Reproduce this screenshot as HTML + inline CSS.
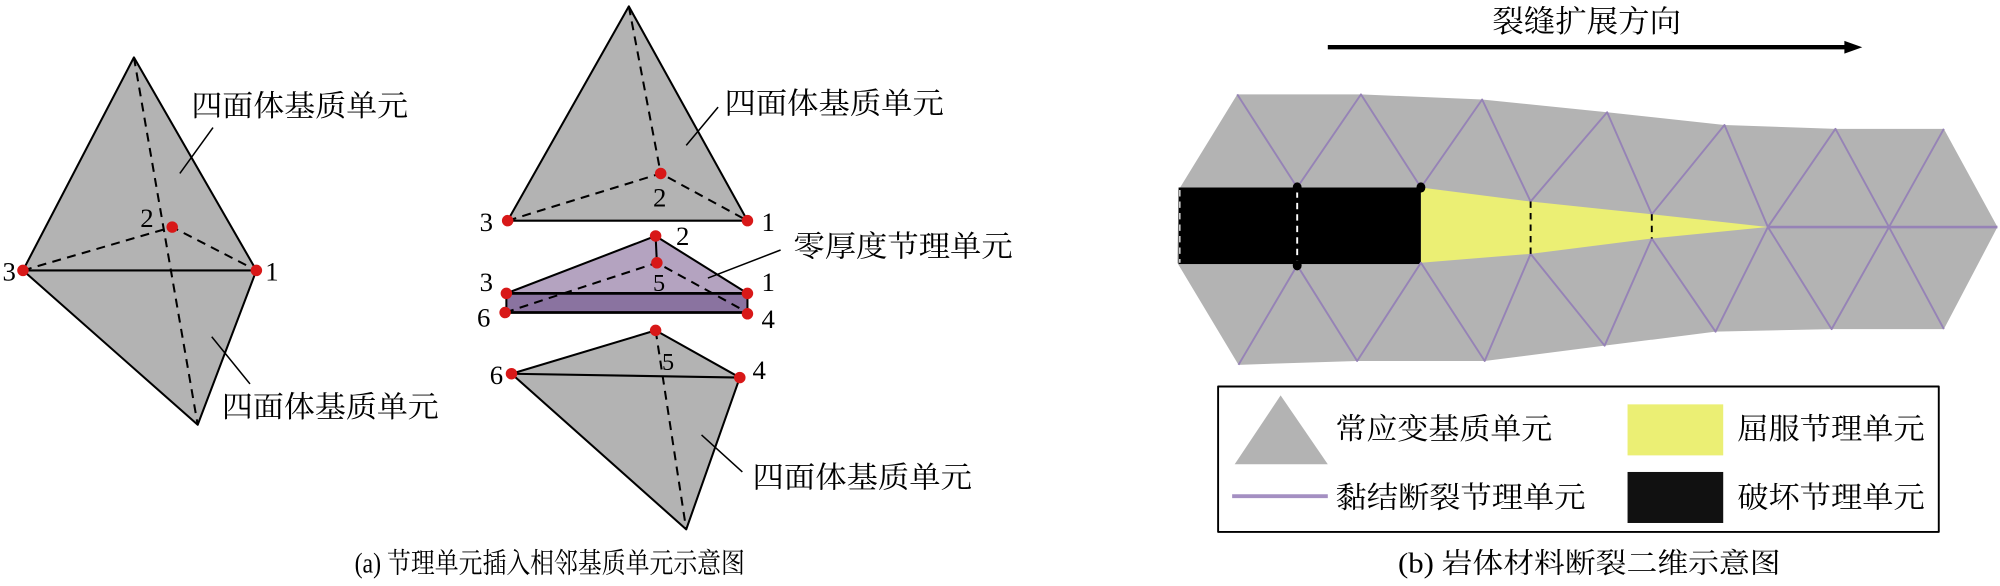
<!DOCTYPE html>
<html><head><meta charset="utf-8"><style>
html,body{margin:0;padding:0;background:#fff;}
svg{display:block;}
text{font-family:"Liberation Serif","Noto Serif CJK SC",serif;fill:#000;}
</style></head><body>
<svg width="2000" height="586" viewBox="0 0 1568 459.4" preserveAspectRatio="none" xmlns="http://www.w3.org/2000/svg">
<g stroke-linejoin="round">
<!-- left tetra -->
<polygon points="105,45 18,212 201,212" fill="#b3b3b3"/>
<polygon points="18,212 201,212 155,333" fill="#b3b3b3"/>
<g stroke="#000" stroke-width="1.6" fill="none">
<polyline points="18,212 105,45 201,212 18,212 155,333 201,212"/>
<g stroke-dasharray="7,5"><line x1="105" y1="45" x2="155" y2="333"/><polyline points="18,212 135,178 201,212"/></g>
<line x1="167" y1="100" x2="141" y2="136" stroke-width="1.2"/>
<line x1="166" y1="264" x2="196" y2="301" stroke-width="1.2"/>
</g>
<g fill="#d81818"><circle cx="18" cy="212" r="4.5"/><circle cx="201" cy="212" r="4.5"/><circle cx="135" cy="178" r="4.5"/></g>
<text x="2" y="220" font-size="21">3</text><text x="208" y="220" font-size="21">1</text><text x="110" y="178" font-size="21">2</text>
<text x="150" y="91" font-size="23" textLength="170" lengthAdjust="spacingAndGlyphs">四面体基质单元</text>
<text x="174" y="327" font-size="23" textLength="170" lengthAdjust="spacingAndGlyphs">四面体基质单元</text>

<!-- middle top -->
<polygon points="493,5 398,173 586,173" fill="#b3b3b3"/>
<g stroke="#000" stroke-width="1.6" fill="none">
<polygon points="493,5 398,173 586,173"/>
<polyline stroke-dasharray="7,5" points="493,5 518,136"/>
<polyline stroke-dasharray="7,5" points="398,173 518,136 586,173"/>
<line x1="563" y1="84" x2="538" y2="114" stroke-width="1.2"/>
</g>
<g fill="#d81818"><circle cx="398" cy="173" r="4.5"/><circle cx="586" cy="173" r="4.5"/><circle cx="518" cy="136" r="4.5"/></g>
<text x="376" y="181" font-size="21">3</text><text x="597" y="181" font-size="21">1</text><text x="512" y="162" font-size="21">2</text>
<text x="568" y="89" font-size="23" textLength="172" lengthAdjust="spacingAndGlyphs">四面体基质单元</text>

<!-- purple joint -->
<polygon points="397,245 397,230 586,230 586,245" fill="#8a73a0"/>
<polygon points="514,185 397,230 586,230" fill="#b4a3c0"/>
<g stroke="#000" stroke-width="1.6" fill="none">
<polyline points="397,230 514,185 586,230"/>
<line x1="397" y1="230" x2="586" y2="230" stroke-width="2.2"/>
<line x1="397" y1="245" x2="586" y2="245" stroke-width="2.2"/>
<line x1="397" y1="230" x2="397" y2="245"/><line x1="586" y1="230" x2="586" y2="245"/>
<line x1="514" y1="185" x2="515" y2="206"/>
<polyline stroke-dasharray="7,5" points="396,245 515,206 586,245"/>
<line x1="612" y1="196" x2="555" y2="218" stroke-width="1.2"/>
</g>
<g fill="#d81818"><circle cx="514" cy="185" r="4.5"/><circle cx="515" cy="206" r="4.5"/><circle cx="397" cy="230" r="4.5"/><circle cx="586" cy="230" r="4.5"/><circle cx="396" cy="245" r="4.5"/><circle cx="586" cy="246" r="4.5"/></g>
<text x="530" y="192" font-size="21">2</text><text x="376" y="228" font-size="21">3</text><text x="512" y="228" font-size="19">5</text>
<text x="597" y="228" font-size="21">1</text><text x="374" y="256" font-size="21">6</text><text x="597" y="257" font-size="21">4</text>
<text x="622" y="201" font-size="23" textLength="172" lengthAdjust="spacingAndGlyphs">零厚度节理单元</text>

<!-- bottom tetra -->
<polygon points="514,259 401,293 538,415 580,296" fill="#b3b3b3"/>
<g stroke="#000" stroke-width="1.6" fill="none">
<polyline points="580,296 514,259 401,293 580,296 538,415 401,293"/>
<line stroke-dasharray="7,5" x1="514" y1="259" x2="538" y2="415"/>
<line x1="550" y1="341" x2="582" y2="370" stroke-width="1.2"/>
</g>
<g fill="#d81818"><circle cx="514" cy="259" r="4.5"/><circle cx="401" cy="293" r="4.5"/><circle cx="580" cy="296" r="4.5"/></g>
<text x="519" y="290" font-size="19">5</text><text x="384" y="301" font-size="21">6</text><text x="590" y="297" font-size="21">4</text>
<text x="590" y="382" font-size="23" textLength="172" lengthAdjust="spacingAndGlyphs">四面体基质单元</text>

<text x="431" y="449" font-size="22" text-anchor="middle" textLength="306" lengthAdjust="spacingAndGlyphs">(a) 节理单元插入相邻基质单元示意图</text>

<!-- right panel -->
<text x="1244" y="25" font-size="24" text-anchor="middle" textLength="148" lengthAdjust="spacingAndGlyphs">裂缝扩展方向</text>
<line x1="1041" y1="37" x2="1448" y2="37" stroke="#000" stroke-width="3.5"/>
<polygon points="1446,32 1460,37 1446,42" fill="#000"/>

<polygon points="924,149 970,74 1067,74 1162,78 1260,88 1352,98 1439,101 1524,101 1566,178 1524,258 1436,258 1345,260 1258,271 1164,283 1064,283 971,286 923,206" fill="#b3b3b3"/>
<rect x="924" y="147" width="190" height="60" fill="#000"/>
<polygon points="1114,147 1200,158 1295,168 1386,178 1295,187 1200,199 1114,206" fill="#ebef74"/>
<g stroke="#9683b6" stroke-width="1.5" fill="none">
<polyline points="970,74 1017,147 1067,74 1114,147 1162,78 1200,158 1260,88 1295,168 1352,98 1386,178 1439,101 1481,178 1524,101"/>
<polyline points="971,286 1017,208 1064,283 1114,206 1164,283 1200,199 1258,271 1295,187 1345,260 1386,178 1436,258 1481,178 1524,258"/>
<line x1="1386" y1="178" x2="1566" y2="178" stroke-width="2"/>
</g>
<g stroke-dasharray="5,4" fill="none" stroke-width="1.5">
<line x1="1200" y1="158" x2="1200" y2="199" stroke="#000"/>
<line x1="1295" y1="168" x2="1295" y2="187" stroke="#000"/>
<line x1="1017" y1="150" x2="1017" y2="205" stroke="#fff"/>
<line x1="925" y1="149" x2="925" y2="206" stroke="#fff" stroke-width="1"/>
</g>
<g fill="#000"><ellipse cx="1017" cy="147" rx="3.5" ry="4"/><ellipse cx="1017" cy="208" rx="3.5" ry="4"/><ellipse cx="1114" cy="147" rx="3.5" ry="4"/></g>

<!-- legend -->
<rect x="955" y="303" width="565" height="114" fill="#fff" stroke="#000" stroke-width="1.5"/>
<polygon points="1004,310 968,364 1041,364" fill="#b3b3b3"/>
<text x="1047" y="344" font-size="23" textLength="170" lengthAdjust="spacingAndGlyphs">常应变基质单元</text>
<rect x="1276" y="317" width="75" height="40" fill="#ebef74"/>
<text x="1362" y="344" font-size="23" textLength="147" lengthAdjust="spacingAndGlyphs">屈服节理单元</text>
<line x1="966" y1="389" x2="1041" y2="389" stroke="#a48fc2" stroke-width="3"/>
<text x="1047" y="398" font-size="23" textLength="196" lengthAdjust="spacingAndGlyphs">黏结断裂节理单元</text>
<rect x="1276" y="370" width="75" height="40" fill="#111"/>
<text x="1362" y="398" font-size="23" textLength="147" lengthAdjust="spacingAndGlyphs">破坏节理单元</text>

<text x="1246" y="449" font-size="22" text-anchor="middle" textLength="300" lengthAdjust="spacingAndGlyphs">(b) 岩体材料断裂二维示意图</text>
</g>
</svg>
</body></html>
